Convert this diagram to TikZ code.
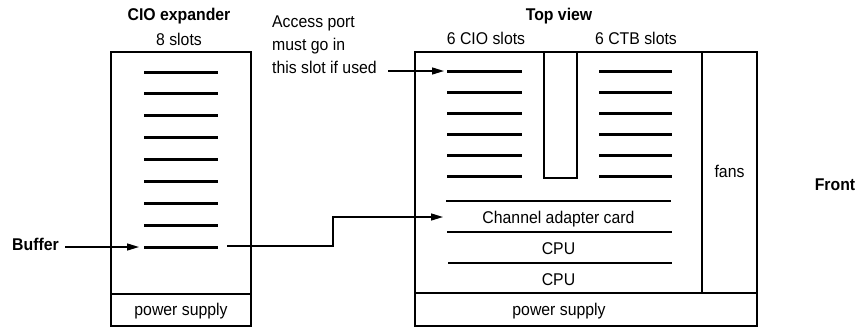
\documentclass[tikz,border=0pt]{standalone}
\usepackage{fontspec}
\setmainfont[FakeStretch=0.93]{Liberation Sans}
\usetikzlibrary{arrows.meta}

\begin{document}
\begin{tikzpicture}[x=1pt,y=-1pt,
  lbl/.style={font=\fontsize{17}{23}\selectfont, inner sep=0pt},
  heading/.style={font=\fontsize{17}{23}\selectfont\bfseries, inner sep=0pt},
  frame/.style={draw, line width=1.4pt, inner sep=0pt},
  slotline/.style={line width=3pt},
  sepline/.style={line width=1.2pt},
  pointer/.style={line width=1.4pt, -{Triangle[length=12pt,width=7pt]}}]
\useasboundingbox (0,0) rectangle (864,327);

% ---- CIO expander (left cabinet) ----
\node[frame, minimum width=140pt, minimum height=242pt] (exp) at (181,173) {};
\node[frame, minimum width=140pt, minimum height=32pt] (exppsu) at (181,310) {};
\node[lbl, anchor=base] (exppsutxt) at (181,315.5) {power supply};
\node[heading, anchor=base] (exptitle) at (179,20.5) {CIO expander};
\node[lbl, anchor=base] (expslots) at (179,45) {8 slots};
\foreach \i in {0,...,8}{
  \coordinate (e\i w) at (144,72+21.875*\i);
  \coordinate (e\i e) at (218,72+21.875*\i);
  \draw[slotline] (e\i w) -- (e\i e);
}

% ---- main cabinet, top view ----
\node[frame, minimum width=342pt, minimum height=241pt] (main) at (586,172.5) {};
\node[frame, minimum width=342pt, minimum height=33pt] (mainpsu) at (586,309.5) {};
\node[lbl, anchor=base] (mainpsutxt) at (559,315) {power supply};
\node[heading, anchor=base] (maintitle) at (559,20.5) {Top view};
\node[lbl, anchor=base] (ciolabel) at (486,44.5) {6 CIO slots};
\node[lbl, anchor=base] (ctblabel) at (636,44.5) {6 CTB slots};

% fan bay
\coordinate (fantop) at (702,52);
\coordinate (fanbot) at (702,293);
\draw[line width=1.4pt] (fantop) -- (fanbot);
\node[lbl, anchor=base] (fans) at (729.5,177) {fans};

% centre partition
\node[frame, minimum width=33pt, minimum height=126pt] (partition) at (560.5,115) {};

% CIO and CTB card slots
\foreach \i in {0,...,5}{
  \coordinate (c\i w) at (447,71.5+20.9*\i);
  \coordinate (c\i e) at (522,71.5+20.9*\i);
  \draw[slotline] (c\i w) -- (c\i e);
  \coordinate (t\i w) at (599,71.5+20.9*\i);
  \coordinate (t\i e) at (672,71.5+20.9*\i);
  \draw[slotline] (t\i w) -- (t\i e);
}

% board stack
\coordinate (s1w) at (446,201); \coordinate (s1e) at (671,201);
\coordinate (s2w) at (447,232); \coordinate (s2e) at (672,232);
\coordinate (s3w) at (448,263); \coordinate (s3e) at (672,263);
\draw[sepline] (s1w) -- (s1e);
\draw[sepline] (s2w) -- (s2e);
\draw[sepline] (s3w) -- (s3e);
\node[lbl, anchor=base] (chan) at (558.5,223) {Channel adapter card};
\node[lbl, anchor=base] (cpua) at (558.5,254) {CPU};
\node[lbl, anchor=base] (cpub) at (558.5,285) {CPU};

\node[heading, anchor=base] (front) at (835,190) {Front};

% ---- call-outs ----
\node[lbl, anchor=base west, align=left] (access) at (272,73.5)
  {Access port\\must go in\\this slot if used};
\coordinate (accfrom) at (388,71);
\coordinate (accto) at (444,71);
\draw[pointer] (accfrom) -- (accto);

\node[heading, anchor=base west] (buffer) at (12,250) {Buffer};
\coordinate (buffrom) at (65,247);
\coordinate (bufto) at (139,247);
\draw[pointer] (buffrom) -- (bufto);

% buffer cable to channel adapter card
\coordinate (cabfrom) at (227,246);
\coordinate (cabbend) at (333,246);
\coordinate (cabto) at (443,217);
\draw[pointer] (cabfrom) -- (cabbend) |- (cabto);
\end{tikzpicture}
\end{document}
